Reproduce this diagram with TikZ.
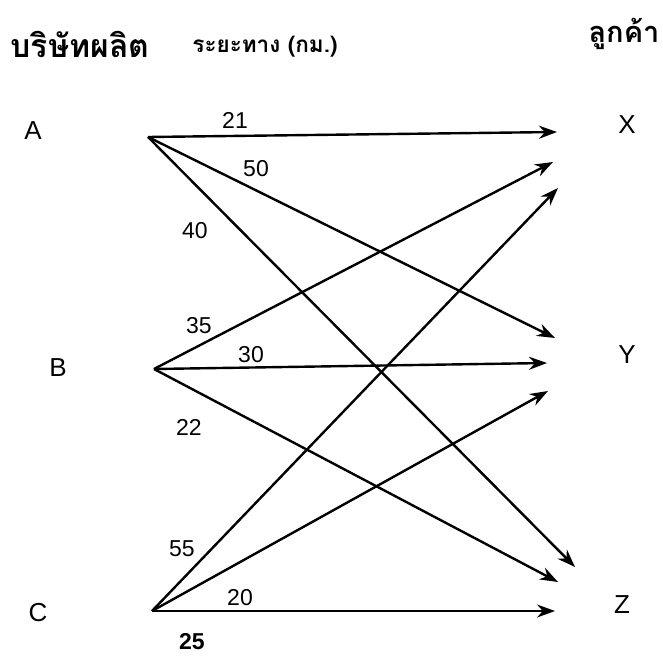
\documentclass[tikz,border=0pt]{standalone}
\usepackage{fontspec}
\setmainfont{Liberation Sans}
\newfontfamily\thaifont[Script=Thai]{Loma}
\usetikzlibrary{arrows.meta}
\tikzset{
    place/.style={font=\fontsize{26}{30}\selectfont, inner sep=0pt},
    dist/.style={font=\fontsize{23}{26}\selectfont, inner sep=0pt},
    heading/.style={font=\thaifont\bfseries\fontsize{32}{36}\selectfont, inner sep=0pt},
    route/.style={-{Stealth[length=18pt,width=13pt]}, line width=2.4pt}
}

\begin{document}
\begin{tikzpicture}[x=1pt, y=-1pt]
    \useasboundingbox (0,0) rectangle (663,655);

    % headings
    \node[heading] (firm) at (80,44) {บริษัทผลิต};
    \node[heading, font=\thaifont\bfseries\fontsize{22.5}{26}\selectfont] (dist) at (265,47) {ระยะทาง (กม.)};
    \node[heading, font=\thaifont\bfseries\fontsize{29}{32}\selectfont] (cust) at (624,34) {ลูกค้า};

    % plants and customers
    \node[place] (A) at (33,131) {A};
    \node[place] (B) at (58,368) {B};
    \node[place] (C) at (38,613) {C};
    \node[place] (X) at (627,125) {X};
    \node[place] (Y) at (627,355) {Y};
    \node[place] (Z) at (622,605) {Z};

    % start points
    \coordinate (a) at (148,137);
    \coordinate (b) at (154,369);
    \coordinate (c) at (152,611);

    % arrow ends
    \coordinate (ax) at (557,132);
    \coordinate (bx) at (553,162);
    \coordinate (cx) at (558,188);
    \coordinate (ay) at (555,338);
    \coordinate (by) at (547,363);
    \coordinate (cy) at (548,391);
    \coordinate (az) at (575,567);
    \coordinate (bz) at (558,582);
    \coordinate (cz) at (555,611);

    \draw[route] (a) -- (ax);
    \draw[route] (a) -- (ay);
    \draw[route] (a) -- (az);
    \draw[route] (b) -- (bx);
    \draw[route] (b) -- (by);
    \draw[route] (b) -- (bz);
    \draw[route] (c) -- (cx);
    \draw[route] (c) -- (cy);
    \draw[route] (c) -- (cz);

    % distances
    \node[dist] (dax) at (235,120) {21};
    \node[dist] (day) at (256,169) {50};
    \node[dist] (daz) at (195,231) {40};
    \node[dist] (dbx) at (199,326) {35};
    \node[dist] (dby) at (251,355) {30};
    \node[dist] (dbz) at (189,427) {22};
    \node[dist] (dcx) at (182,549) {55};
    \node[dist] (dcz) at (240,598) {20};
    \node[dist, font=\fontsize{23}{26}\selectfont\bfseries] (dcy) at (192,642) {25};
\end{tikzpicture}
\end{document}
